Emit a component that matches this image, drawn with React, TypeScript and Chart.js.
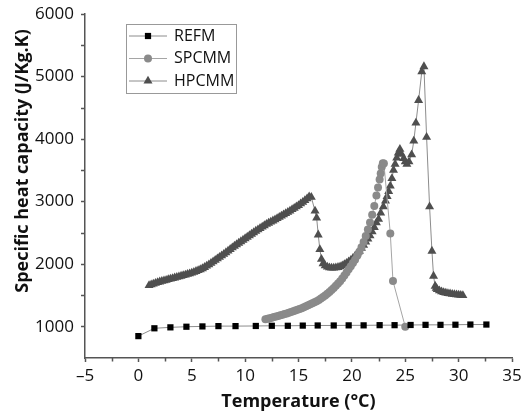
import React, { useEffect, useRef } from 'react';
import { Chart, registerables } from 'chart.js';
import { drawPoint } from 'chart.js/helpers';

Chart.register(...registerables);

const seriesNames = ['REFM', 'SPCMM', 'HPCMM'];
const xTitle = 'Temperature (°C)';
const yTitle = 'Specific heat capacity (J/Kg.K)';

const xTicks = [-5, 0, 5, 10, 15, 20, 25, 30, 35];
const yTicks = [1000, 2000, 3000, 4000, 5000, 6000];
const xMinorTicks = [-2.5, 2.5, 7.5, 12.5, 17.5, 22.5, 27.5, 32.5];
const yMinorTicks = [1500, 2500, 3500, 4500, 5500];

const refmT = [0, 1.5, 3, 4.5, 6, 7.5, 9.1, 11, 12.5, 14, 15.4, 16.8, 18.3, 19.7, 21.1, 22.6, 24, 25.5, 26.9, 28.3, 29.7, 31.1, 32.6];
const refmCp = [850, 975, 990, 1000, 1005, 1010, 1010, 1012, 1015, 1015, 1018, 1020, 1020, 1022, 1022, 1025, 1025, 1028, 1030, 1030, 1032, 1035, 1035];

const spcmmT = [11.9, 12.1, 12.3, 12.5, 12.7, 12.9, 13.1, 13.3, 13.5, 13.7, 13.9, 14.1, 14.3, 14.5, 14.7, 14.9, 15.1, 15.3, 15.5, 15.7, 15.9, 16.1, 16.3, 16.5, 16.7, 16.9, 17.1, 17.3, 17.5, 17.7, 17.9, 18.1, 18.3, 18.5, 18.7, 18.9, 19.1, 19.3, 19.5, 19.7, 19.9, 20.1, 20.3, 20.5, 20.7, 20.9, 21.1, 21.3, 21.5, 21.7, 21.9, 22.1, 22.3, 22.45, 22.6, 22.7, 22.8, 22.9, 23.0, 23.6, 23.85, 25.0];
const spcmmCp = [1118, 1127, 1136, 1145, 1154, 1164, 1173, 1183, 1192, 1202, 1213, 1225, 1236, 1248, 1260, 1272, 1284, 1297, 1311, 1326, 1342, 1358, 1374, 1391, 1407, 1428, 1450, 1474, 1500, 1527, 1556, 1586, 1619, 1654, 1690, 1727, 1772, 1820, 1868, 1918, 1968, 2020, 2072, 2134, 2200, 2272, 2355, 2450, 2555, 2665, 2790, 2930, 3100, 3225, 3355, 3450, 3555, 3615, 3610, 2490, 1730, 1000];

const hpcmmT = [1.0, 1.2, 1.4, 1.6, 1.8, 2.0, 2.2, 2.4, 2.6, 2.8, 3.0, 3.2, 3.4, 3.6, 3.8, 4.0, 4.2, 4.4, 4.6, 4.8, 5.0, 5.2, 5.4, 5.6, 5.8, 6.0, 6.2, 6.4, 6.6, 6.8, 7.0, 7.2, 7.4, 7.6, 7.8, 8.0, 8.2, 8.4, 8.6, 8.8, 9.0, 9.2, 9.4, 9.6, 9.8, 10.0, 10.2, 10.4, 10.6, 10.8, 11.0, 11.2, 11.4, 11.6, 11.8, 12.0, 12.2, 12.4, 12.6, 12.8, 13.0, 13.2, 13.4, 13.6, 13.8, 14.0, 14.2, 14.4, 14.6, 14.8, 15.0, 15.2, 15.4, 15.6, 15.8, 16.0, 16.2, 16.55, 16.7, 16.85, 17.0, 17.15, 17.3, 17.5, 17.7, 17.9, 18.1, 18.3, 18.5, 18.7, 18.9, 19.1, 19.3, 19.5, 19.7, 19.9, 20.1, 20.3, 20.5, 20.7, 20.9, 21.1, 21.3, 21.5, 21.7, 21.9, 22.1, 22.3, 22.5, 22.7, 22.95, 23.15, 23.3, 23.45, 23.6, 23.75, 23.9, 24.05, 24.2, 24.35, 24.5, 24.65, 24.85, 25.0, 25.15, 25.35, 25.6, 25.8, 26.0, 26.25, 26.55, 26.75, 27.0, 27.28, 27.5, 27.65, 27.8, 27.9, 28.0, 28.2, 28.4, 28.6, 28.8, 29.0, 29.2, 29.4, 29.6, 29.8, 30.0, 30.2, 30.4];
const hpcmmCp = [1660, 1672, 1684, 1695, 1707, 1718, 1727, 1736, 1745, 1755, 1764, 1773, 1782, 1791, 1800, 1810, 1819, 1829, 1839, 1849, 1860, 1873, 1886, 1900, 1914, 1930, 1950, 1971, 1993, 2016, 2040, 2064, 2088, 2112, 2136, 2160, 2186, 2212, 2238, 2264, 2290, 2314, 2338, 2362, 2386, 2410, 2434, 2458, 2482, 2506, 2530, 2552, 2574, 2596, 2618, 2640, 2658, 2676, 2694, 2712, 2730, 2750, 2770, 2790, 2810, 2830, 2852, 2874, 2896, 2918, 2940, 2966, 2992, 3018, 3048, 3080, 3070, 2850, 2740, 2470, 2235, 2080, 2010, 1975, 1955, 1945, 1940, 1940, 1943, 1950, 1960, 1975, 1995, 2015, 2040, 2065, 2095, 2130, 2170, 2210, 2255, 2305, 2355, 2405, 2455, 2520, 2590, 2665, 2720, 2820, 2920, 3010, 3085, 3165, 3250, 3370, 3505, 3600, 3700, 3780, 3840, 3760, 3690, 3640, 3600, 3640, 3750, 3970, 4260, 4620, 5080, 5160, 4030, 2920, 2210, 1810, 1650, 1615, 1595, 1575, 1560, 1550, 1540, 1533, 1527, 1522, 1518, 1514, 1510, 1506, 1502];

const FONT = '"Open Sans", "Liberation Sans", sans-serif';
const AXIS_COLOR = '#555';
const TEXT_COLOR = '#111';

const toPoints = (xs: number[], ys: number[]) => xs.map((x, i) => ({ x, y: ys[i] }));

const decorPlugin = {
  id: 'decor',
  afterDraw(chart: any) {
    const ctx: CanvasRenderingContext2D = chart.ctx;
    const xs = chart.scales.x;
    const ys = chart.scales.y;
    const area = chart.chartArea;
    ctx.save();
    ctx.strokeStyle = AXIS_COLOR;
    ctx.lineWidth = 1.5;
    ctx.beginPath();
    xMinorTicks.forEach((v) => {
      const p = Math.round(xs.getPixelForValue(v)) + 0.5;
      ctx.moveTo(p, area.bottom);
      ctx.lineTo(p, area.bottom + 3.5);
    });
    yMinorTicks.forEach((v) => {
      const p = Math.round(ys.getPixelForValue(v)) + 0.5;
      ctx.moveTo(area.left, p);
      ctx.lineTo(area.left - 4, p);
    });
    ctx.stroke();

    ctx.save();
    ctx.translate(23, 161);
    ctx.rotate(-Math.PI / 2);
    ctx.font = `bold 18px ${FONT}`;
    ctx.fillStyle = TEXT_COLOR;
    ctx.textAlign = 'center';
    ctx.textBaseline = 'middle';
    ctx.fillText(yTitle, 0, 0);
    ctx.restore();

    ctx.strokeStyle = '#999';
    ctx.lineWidth = 1;
    ctx.strokeRect(126.5, 24.5, 110, 69);
    const rowY = [36, 58.5, 81];
    chart.data.datasets.forEach((ds: any, i: number) => {
      const y = rowY[i];
      ctx.strokeStyle = ds.borderColor;
      ctx.lineWidth = 1;
      ctx.beginPath();
      ctx.moveTo(129, y);
      ctx.lineTo(167, y);
      ctx.stroke();
      ctx.fillStyle = ds.pointBackgroundColor;
      ctx.strokeStyle = ds.pointBackgroundColor;
      drawPoint(ctx, { pointStyle: ds.pointStyle, rotation: 0, radius: ds.pointRadius, borderWidth: 0 } as any, 148, y);
      ctx.fillStyle = TEXT_COLOR;
      ctx.font = `16px ${FONT}`;
      ctx.textAlign = 'left';
      ctx.textBaseline = 'middle';
      ctx.fillText(seriesNames[i], 174, y);
    });
    ctx.restore();
  },
};

export default function App() {
  const canvasRef = useRef<HTMLCanvasElement | null>(null);

  useEffect(() => {
    const canvas = canvasRef.current;
    if (!canvas) return;
    const chart = new Chart(canvas, {
      type: 'scatter',
      data: {
        datasets: [
          {
            label: seriesNames[0],
            data: toPoints(refmT, refmCp),
            showLine: true,
            borderColor: '#8c8c8c',
            borderWidth: 1,
            pointStyle: 'rect',
            pointRadius: 4.4,
            pointBackgroundColor: '#000',
            pointBorderWidth: 0,
          },
          {
            label: seriesNames[1],
            data: toPoints(spcmmT, spcmmCp),
            showLine: true,
            borderColor: '#a5a5a5',
            borderWidth: 1,
            pointStyle: 'circle',
            pointRadius: 4,
            pointBackgroundColor: '#8a8a8a',
            pointBorderWidth: 0,
          },
          {
            label: seriesNames[2],
            data: toPoints(hpcmmT, hpcmmCp),
            showLine: true,
            borderColor: '#8c8c8c',
            borderWidth: 1,
            pointStyle: 'triangle',
            pointRadius: 5.2,
            pointBackgroundColor: '#4f4f4f',
            pointBorderWidth: 0,
          },
        ] as any,
      },
      options: {
        animation: false,
        responsive: false,
        layout: { padding: { top: 14, right: 9, left: 0, bottom: 0 } },
        plugins: { legend: { display: false }, tooltip: { enabled: false } },
        scales: {
          x: {
            type: 'linear',
            min: -5,
            max: 35,
            afterBuildTicks: (s: any) => {
              s.ticks = xTicks.map((v) => ({ value: v }));
            },
            afterFit: (s: any) => {
              s.height = 58;
              s.paddingLeft = 0;
              s.paddingRight = 0;
            },
            grid: { drawOnChartArea: false, drawTicks: true, tickLength: 4, tickColor: AXIS_COLOR, tickWidth: 1.5 },
            border: { color: AXIS_COLOR, width: 1.5 },
            ticks: {
              color: TEXT_COLOR,
              font: { family: FONT, size: 17 },
              padding: 4,
              maxRotation: 0,
              autoSkip: false,
              callback: (v: any) => (Number(v) < 0 ? '–' + Math.abs(Number(v)) : String(v)),
            },
            title: {
              display: true,
              text: xTitle,
              color: TEXT_COLOR,
              font: { family: FONT, size: 18, weight: 'bold' },
              padding: { top: 0, bottom: 3 },
            },
          },
          y: {
            type: 'linear',
            min: 500,
            max: 6000,
            afterBuildTicks: (s: any) => {
              s.ticks = yTicks.map((v) => ({ value: v }));
            },
            afterFit: (s: any) => {
              s.width = 85;
              s.paddingTop = 0;
              s.paddingBottom = 0;
            },
            grid: { drawOnChartArea: false, drawTicks: true, tickLength: 4, tickColor: AXIS_COLOR, tickWidth: 1.5 },
            border: { color: AXIS_COLOR, width: 1.5 },
            ticks: {
              color: TEXT_COLOR,
              font: { family: FONT, size: 17 },
              padding: 7,
              autoSkip: false,
              callback: (v: any) => String(v),
            },
          },
        },
      } as any,
      plugins: [decorPlugin],
    });
    return () => chart.destroy();
  }, []);

  return (
    <div style={{ position: 'fixed', left: 0, top: 0, width: 521, height: 416, background: '#fff' }}>
      <canvas ref={canvasRef} width={521} height={416} style={{ display: 'block' }} />
    </div>
  );
}
